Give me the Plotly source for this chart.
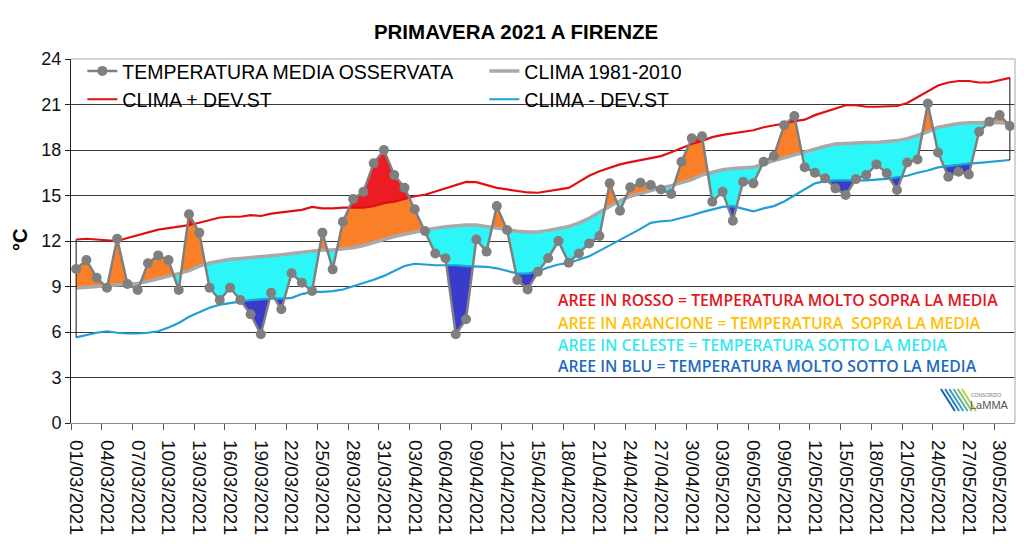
import numpy as np
import pandas as pd
import plotly.graph_objects as go

# ---------------- data ----------------
dates = pd.date_range("2021-03-01", "2021-05-31", freq="D")
day = np.arange(len(dates))

tick_labels = ["01/03/2021", "04/03/2021", "07/03/2021", "10/03/2021", "13/03/2021",
               "16/03/2021", "19/03/2021", "22/03/2021", "25/03/2021", "28/03/2021",
               "31/03/2021", "03/04/2021", "06/04/2021", "09/04/2021", "12/04/2021",
               "15/04/2021", "18/04/2021", "21/04/2021", "24/04/2021", "27/04/2021",
               "30/04/2021", "03/05/2021", "06/05/2021", "09/05/2021", "12/05/2021",
               "15/05/2021", "18/05/2021", "21/05/2021", "24/05/2021", "27/05/2021",
               "30/05/2021"]

t_obs = [10.15, 10.74, 9.58, 8.92, 12.15, 9.16, 8.77, 10.53, 11.05, 10.74,
         8.77, 13.76, 12.55, 8.92, 8.11, 8.92, 8.11, 7.17, 5.85, 8.59,
         7.50, 9.87, 9.25, 8.70, 12.55, 10.13, 13.27, 14.77, 15.25, 17.12,
         18.00, 16.35, 15.51, 14.09, 12.66, 11.18, 10.86, 5.85, 6.84, 12.10,
         11.30, 14.30, 12.72, 9.43, 8.81, 9.97, 10.86, 12.00, 10.57, 11.18,
         11.84, 12.33, 15.80, 14.00, 15.54, 15.84, 15.69, 15.40, 15.10, 17.23,
         18.77, 18.90, 14.59, 15.25, 13.34, 15.91, 15.80, 17.23, 17.60, 19.64,
         20.24, 16.86, 16.50, 16.13, 15.47, 15.03, 16.08, 16.35, 17.05, 16.46,
         15.36, 17.18, 17.38, 21.07, 17.84, 16.24, 16.57, 16.39, 19.20, 19.86,
         20.30, 19.58]

clima = [8.90, 8.95, 9.00, 9.05, 9.10, 9.15, 9.20, 9.35, 9.50, 9.65,
         9.85, 10.05, 10.35, 10.55, 10.70, 10.80, 10.85, 10.90, 10.95, 11.00,
         11.10, 11.18, 11.25, 11.35, 11.40, 11.40, 11.45, 11.55, 11.70, 11.90,
         12.15, 12.30, 12.45, 12.60, 12.75, 12.85, 12.94, 13.00, 13.05, 13.05,
         12.95, 12.85, 12.70, 12.65, 12.60, 12.60, 12.70, 12.80, 12.95, 13.20,
         13.50, 13.90, 14.30, 14.65, 14.95, 15.15, 15.35, 15.50, 15.65, 15.85,
         16.05, 16.35, 16.55, 16.70, 16.78, 16.82, 16.86, 17.10, 17.30, 17.50,
         17.70, 17.90, 18.10, 18.25, 18.40, 18.45, 18.48, 18.50, 18.50, 18.55,
         18.62, 18.75, 18.95, 19.20, 19.50, 19.65, 19.75, 19.80, 19.82, 19.82,
         19.80, 19.75]

clima_plus = [12.10, 12.15, 12.10, 12.05, 12.00, 12.20, 12.40, 12.60, 12.75, 12.85,
              12.95, 13.05, 13.20, 13.40, 13.55, 13.60, 13.60, 13.70, 13.65, 13.80,
              13.90, 13.97, 14.05, 14.25, 14.15, 14.15, 14.20, 14.20, 14.20, 14.30,
              14.50, 14.60, 14.80, 14.95, 15.05, 15.25, 15.45, 15.65, 15.90, 15.88,
              15.70, 15.50, 15.40, 15.30, 15.20, 15.18, 15.30, 15.40, 15.50, 15.90,
              16.30, 16.60, 16.85, 17.05, 17.20, 17.35, 17.50, 17.60, 17.85, 18.15,
              18.40, 18.60, 18.85, 19.00, 19.10, 19.20, 19.30, 19.50, 19.60, 19.75,
              19.90, 20.00, 20.30, 20.50, 20.75, 20.95, 20.95, 20.85, 20.85, 20.85,
              20.90, 21.10, 21.50, 21.90, 22.25, 22.45, 22.55, 22.55, 22.45, 22.45,
              22.60, 22.76]

clima_minus = [5.65, 5.80, 5.95, 6.05, 5.95, 5.90, 5.90, 5.95, 6.05, 6.30,
               6.60, 7.00, 7.30, 7.60, 7.80, 7.90, 8.00, 8.10, 8.15, 8.20,
               8.20, 8.25, 8.50, 8.65, 8.65, 8.70, 8.80, 9.00, 9.20, 9.45,
               9.70, 10.05, 10.35, 10.50, 10.45, 10.40, 10.40, 10.40, 10.35, 10.30,
               10.30, 10.20, 10.05, 9.85, 9.85, 10.00, 10.25, 10.45, 10.55, 10.75,
               11.00, 11.35, 11.70, 12.10, 12.45, 12.80, 13.20, 13.30, 13.35, 13.50,
               13.70, 13.90, 14.10, 14.25, 14.30, 14.10, 13.95, 14.15, 14.30, 14.60,
               15.00, 15.40, 15.80, 15.95, 16.00, 16.00, 16.00, 16.00, 16.05, 16.10,
               16.20, 16.30, 16.50, 16.65, 16.85, 16.95, 17.05, 17.10, 17.15, 17.20,
               17.25, 17.34]

area_notes = ["AREE IN ROSSO = TEMPERATURA MOLTO SOPRA LA MEDIA",
              "AREE IN ARANCIONE = TEMPERATURA  SOPRA LA MEDIA",
              "AREE IN CELESTE = TEMPERATURA SOTTO LA MEDIA",
              "AREE IN BLU = TEMPERATURA MOLTO SOTTO LA MEDIA"]
note_colors = ["#E3141C", "#FFC000", "#33E8F2", "#1F6BC0"]

# ---------------- fills (exact crossings) ----------------
o = np.array(t_obs); c = np.array(clima); r = np.array(clima_plus); b = np.array(clima_minus)
xs = [0.0]
for i in range(len(o) - 1):
    cuts = []
    for L in (c, r, b):
        d0 = o[i] - L[i]; d1 = o[i + 1] - L[i + 1]
        if d0 * d1 < 0:
            cuts.append(i + d0 / (d0 - d1))
    xs += sorted(cuts) + [float(i + 1)]
xs = np.array(xs)
oi = np.interp(xs, day, o); ci = np.interp(xs, day, c)
ri = np.interp(xs, day, r); bi = np.interp(xs, day, b)

fills = [
    (ci, np.maximum(np.minimum(oi, ri), ci), "#F98028"),   # orange
    (ri, np.maximum(oi, ri), "#EC1C24"),                   # red
    (np.minimum(np.maximum(oi, bi), ci), ci, "#2CF6F8"),   # cyan
    (np.minimum(oi, bi), bi, "#3A3ACB"),                   # dark blue
]

fig = go.Figure()
for lo, hi, col in fills:
    fig.add_trace(go.Scatter(x=xs, y=lo, mode="lines", line=dict(width=0),
                             showlegend=False, hoverinfo="skip"))
    fig.add_trace(go.Scatter(x=xs, y=hi, mode="lines", line=dict(width=0),
                             fill="tonexty", fillcolor=col, showlegend=False,
                             hoverinfo="skip"))

fig.add_trace(go.Scatter(x=day, y=clima_minus, mode="lines", name="CLIMA - DEV.ST",
                         line=dict(color="#1E9FD8", width=2.2)))
fig.add_trace(go.Scatter(x=day, y=clima_plus, mode="lines", name="CLIMA + DEV.ST",
                         line=dict(color="#E01010", width=2.2)))
fig.add_trace(go.Scatter(x=day, y=clima, mode="lines", name="CLIMA 1981-2010",
                         line=dict(color="#A9A9A9", width=3.5)))
# vertical edges of the band
for k in (0, len(day) - 1):
    fig.add_trace(go.Scatter(x=[day[k], day[k]], y=[clima_minus[k], clima_plus[k]],
                             mode="lines", line=dict(color="#111111", width=1),
                             showlegend=False, hoverinfo="skip"))
fig.add_trace(go.Scatter(x=day, y=t_obs, mode="lines+markers",
                         name="TEMPERATURA MEDIA OSSERVATA",
                         line=dict(color="#7F7F7F", width=2.5),
                         marker=dict(color="#7F7F7F", size=10)))

font = "Liberation Sans, Arial, sans-serif"
fig.update_layout(
    width=1024, height=554,
    margin=dict(l=71, r=9, t=59, b=131),
    paper_bgcolor="white", plot_bgcolor="white",
    font=dict(family=font, color="#000000"),
    title=dict(text="<b>PRIMAVERA 2021 A FIRENZE</b>", x=0.504, xanchor="center",
               xref="container", y=1 - 32 / 554, yref="container", yanchor="middle",
               font=dict(size=20.5, family=font, color="#000")),
    showlegend=True,
    legend=dict(orientation="h", x=0.012, y=1.02, xanchor="left", yanchor="top",
                entrywidth=357, entrywidthmode="pixels", traceorder="reversed",
                font=dict(size=19.5, family=font, color="#000"),
                bgcolor="rgba(0,0,0,0)", itemwidth=30, tracegroupgap=0),
    xaxis=dict(range=[-0.5, 91.5], showgrid=False, zeroline=False,
               showline=True, linecolor="#8a8a8a", linewidth=1.2,
               tickmode="array", tickvals=day[::3], ticktext=tick_labels,
               tickangle=90, ticks="", ticklabelstandoff=12,
               tickfont=dict(size=19, family=font, color="#111"),
               minor=dict(tickmode="linear", tick0=-0.5, dtick=3, ticks="outside",
                          ticklen=6, tickcolor="#555", tickwidth=1)),
    yaxis=dict(range=[0, 24], tickmode="linear", tick0=0, dtick=3,
               showgrid=True, gridcolor="#3a3a3a", gridwidth=1, zeroline=False,
               showline=True, linecolor="#222", linewidth=1,
               ticks="outside", ticklen=5, tickcolor="#222",
               tickfont=dict(size=18, family=font, color="#111")),
    shapes=[
        dict(type="line", xref="paper", yref="paper", x0=0, x1=1, y0=1, y1=1,
             line=dict(color="#c4c4c4", width=1.5), layer="above"),
        dict(type="line", xref="paper", yref="paper", x0=1, x1=1, y0=0, y1=1,
             line=dict(color="#c4c4c4", width=1.5), layer="above"),
    ],
)

ann = [dict(text="<b>°C</b>", xref="paper", yref="paper", x=(20 - 71) / 943,
            y=(423 - 240) / 364, xanchor="center", yanchor="middle", textangle=-90,
            showarrow=False, font=dict(size=20, family=font, color="#000"))]
note_y = [300, 323, 345, 366]
for txt, col, yy in zip(area_notes, note_colors, note_y):
    ann.append(dict(text=txt, xref="paper", yref="paper", x=(555 - 71) / 943,
                    y=(423 - yy) / 364, xanchor="left", yanchor="middle",
                    showarrow=False,
                    font=dict(size=15.8, family="Open Sans, sans-serif", color=col,
                              weight=600)))
# logo text
ann.append(dict(text="CONSORZIO", xref="paper", yref="paper", x=(968 - 71) / 943,
                y=(423 - 395) / 364, xanchor="left", yanchor="middle", showarrow=False,
                font=dict(size=5, family=font, color="#777")))
ann.append(dict(text="LaMMA", xref="paper", yref="paper", x=(967 - 71) / 943,
                y=(423 - 405) / 364, xanchor="left", yanchor="middle", showarrow=False,
                font=dict(size=11, family=font, color="#555")))
fig.update_layout(annotations=ann)

# logo stripes
stripe_cols = ["#1E5FA8", "#2A7FC0", "#3A9AC8", "#58B0A0", "#86C46A", "#B6D24A"]
for k, col in enumerate(stripe_cols):
    x0 = 940 + k * 4.2
    fig.add_shape(type="line", xref="paper", yref="paper",
                  x0=(x0 - 71) / 943, x1=(x0 + 14 - 71) / 943,
                  y0=(423 - 389) / 364, y1=(423 - 411) / 364,
                  line=dict(color=col, width=2))

fig.write_html("out.html")
